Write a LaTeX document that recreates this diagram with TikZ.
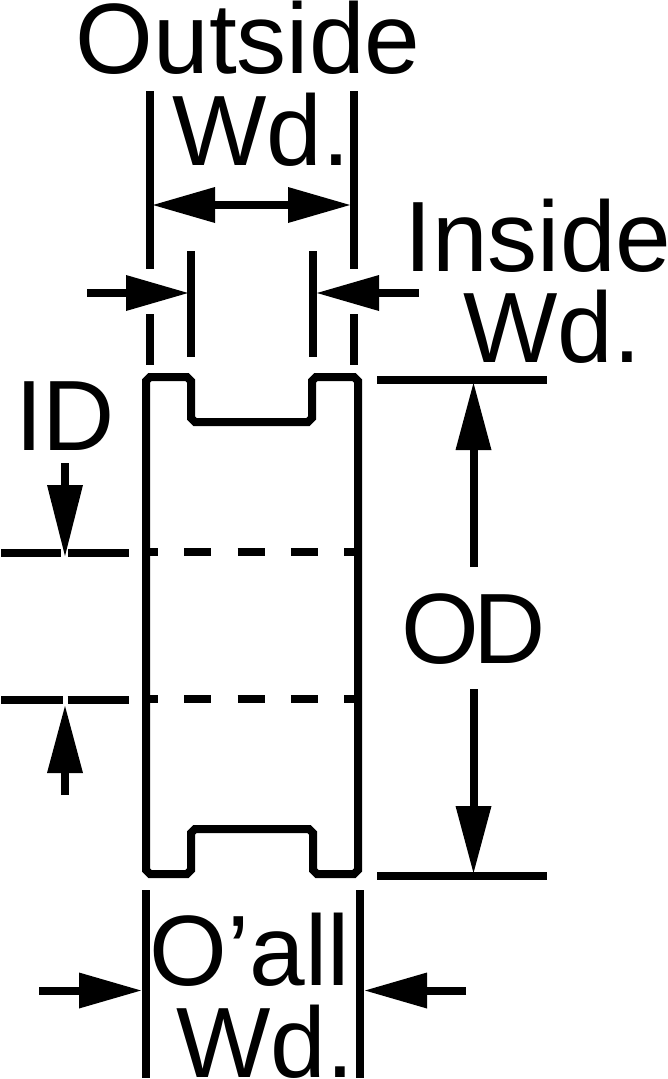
\documentclass[tikz,border=0pt]{standalone}
\usepackage{fontspec}
\setmainfont{Liberation Sans}
\usetikzlibrary{arrows.meta}
\tikzset{
 x=1pt,y=-1pt,
 lab/.style={font=\fontsize{100}{100}\selectfont,anchor=base,inner sep=0pt,text=black},
 ln/.style={line width=8pt,draw=black},
 body/.style={line width=8pt,draw=black,line join=miter},
 dashln/.style={line width=8pt,draw=black,dash pattern=on 27pt off 26.3pt,dash phase=15pt},
 dim/.style={line width=8pt,draw=black,-{Triangle[length=#1,width=36pt,line width=0pt]}},
 dim/.default=62pt,
 dimb/.style={line width=8pt,draw=black,{Triangle[length=62pt,width=36pt,line width=0pt]}-{Triangle[length=62pt,width=36pt,line width=0pt]}},
}
\begin{document}
\begin{tikzpicture}
\useasboundingbox (0,0) rectangle (668,1079);
\node[lab] (t1) at (248,73) {Outside};
\node[lab] (t2) at (261,165) {Wd.};
\node[lab] (t3) at (538,271) {Inside};
\node[lab] (t4) at (552,362) {Wd.};
\node[lab] (t5) at (65,450) {ID};
\node[lab] (t6) at (473.5,663) {O\kern-5pt D};
\node[lab] (t7) at (250,985) {O’all};
\node[lab] (t8) at (265,1077) {Wd.};
% pulley
\draw[body] (146,381) -- (150,377) -- (187,377) -- (191,381) -- (191,418) -- (195,422) -- (308,422) -- (312,418) -- (312,381) -- (316,377) -- (354,377) -- (358,381) -- (358,870) -- (354,874) -- (317,874) -- (313,870) -- (313,833) -- (309,829) -- (195,829) -- (191,833) -- (191,870) -- (187,874) -- (150,874) -- (146,870) -- cycle;
\draw[dashln] (146,552) -- (358,552);
\draw[dashln] (146,698.5) -- (358,698.5);
% extension lines, widths
\draw[ln] (150,91) -- (150,269);
\draw[ln] (354,91) -- (354,269);
\draw[ln] (150,314) -- (150,365);
\draw[ln] (354,314) -- (354,365);
\draw[ln] (191,251) -- (191,357);
\draw[ln] (312.5,251) -- (312.5,357);
% outside width arrow
\coordinate (ow1) at (153,205); \coordinate (ow2) at (350,205);
\draw[dimb] (ow1) -- (ow2);
% inside width arrows
\coordinate (iw1) at (87,293); \coordinate (iw2) at (188,293);
\draw[dim] (iw1) -- (iw2);
\coordinate (iw3) at (419,293); \coordinate (iw4) at (317,293);
\draw[dim] (iw3) -- (iw4);
% OD
\draw[ln] (377,380) -- (547,380);
\draw[ln] (377,876) -- (547,876);
\coordinate (od1) at (473.5,567); \coordinate (od2) at (473.5,383);
\draw[dim=67pt] (od1) -- (od2);
\coordinate (od3) at (473.5,689); \coordinate (od4) at (473.5,873);
\draw[dim=67pt] (od3) -- (od4);
% ID
\draw[ln] (1,553) -- (61,553);
\draw[ln] (68,553) -- (129,553);
\draw[ln] (1,700) -- (63,700);
\draw[ln] (67.5,700) -- (129,700);
\coordinate (id1) at (65,463); \coordinate (id2) at (65,556);
\draw[dim=71pt] (id1) -- (id2);
\coordinate (id3) at (65,795); \coordinate (id4) at (65,706);
\draw[dim=67pt] (id3) -- (id4);
% overall width
\draw[ln] (146,890) -- (146,1078);
\draw[ln] (360,890) -- (360,1078);
\coordinate (oa1) at (39,990.5); \coordinate (oa2) at (141,990.5);
\draw[dim] (oa1) -- (oa2);
\coordinate (oa3) at (466,990.5); \coordinate (oa4) at (365,990.5);
\draw[dim] (oa3) -- (oa4);
\end{tikzpicture}
\end{document}
